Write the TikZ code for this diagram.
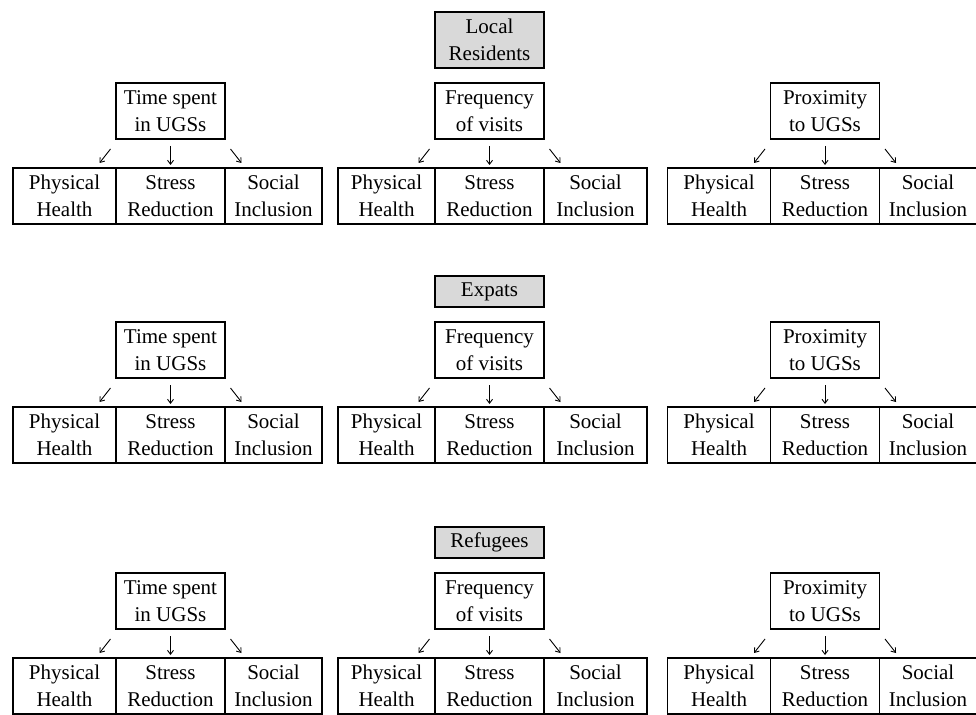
\documentclass[tikz,border=0pt]{standalone}
\usepackage{fontspec}
\setmainfont{Liberation Serif}
\usetikzlibrary{arrows.meta,positioning}
\tikzset{
  box/.style={draw, line width=1.2pt, inner sep=0pt, outer sep=0pt, align=center,
    minimum height=56pt, font=\fontsize{21}{27}\selectfont},
  group/.style={box, fill=black!15, minimum width=109pt},
  factor/.style={box, minimum width=109pt},
  outcome/.style={box},
  arr/.style={line width=0.9pt, -{Straight Barb[length=4pt,width=6pt]}}
}
\begin{document}
\begin{tikzpicture}[x=1pt,y=-1pt]
  \useasboundingbox (0,0) rectangle (976,714);
  % population groups
  \node[group, anchor=north] (loc) at (489.5,12) {Local\\Residents};
  \node[group, anchor=north, minimum height=31pt] (exp) at (489.5,276) {Expats};
  \node[group, anchor=north, minimum height=31pt] (ref) at (489.5,527) {Refugees};
  % factors and their outcomes
  \foreach \r/\T in {1/83, 2/322, 3/573}{
    \foreach \g/\cx/\wl/\wr/\txt in {1/170.5/103/97/{Time spent\\in UGSs},
                                     2/489.5/97/103/{Frequency\\of visits},
                                     3/825/103/97/{Proximity\\to UGSs}}{
      \node[factor, anchor=north] (t\r\g) at (\cx,\T) {\txt};
      \node[outcome, minimum width=109pt, anchor=north] (sr\r\g) at (\cx,\T+85) {Stress\\Reduction};
      \node[outcome, minimum width=\wl pt, anchor=north east] (ph\r\g) at (sr\r\g.north west) {Physical\\Health};
      \node[outcome, minimum width=\wr pt, anchor=north west] (si\r\g) at (sr\r\g.north east) {Social\\Inclusion};
      \draw[arr] ([shift={(-60,10)}]t\r\g.south) -- ([shift={(-71,24)}]t\r\g.south);
      \draw[arr] ([shift={(0,7)}]t\r\g.south) -- ([shift={(0,26)}]t\r\g.south);
      \draw[arr] ([shift={(60,10)}]t\r\g.south) -- ([shift={(71,24)}]t\r\g.south);
    }
  }
\end{tikzpicture}
\end{document}
